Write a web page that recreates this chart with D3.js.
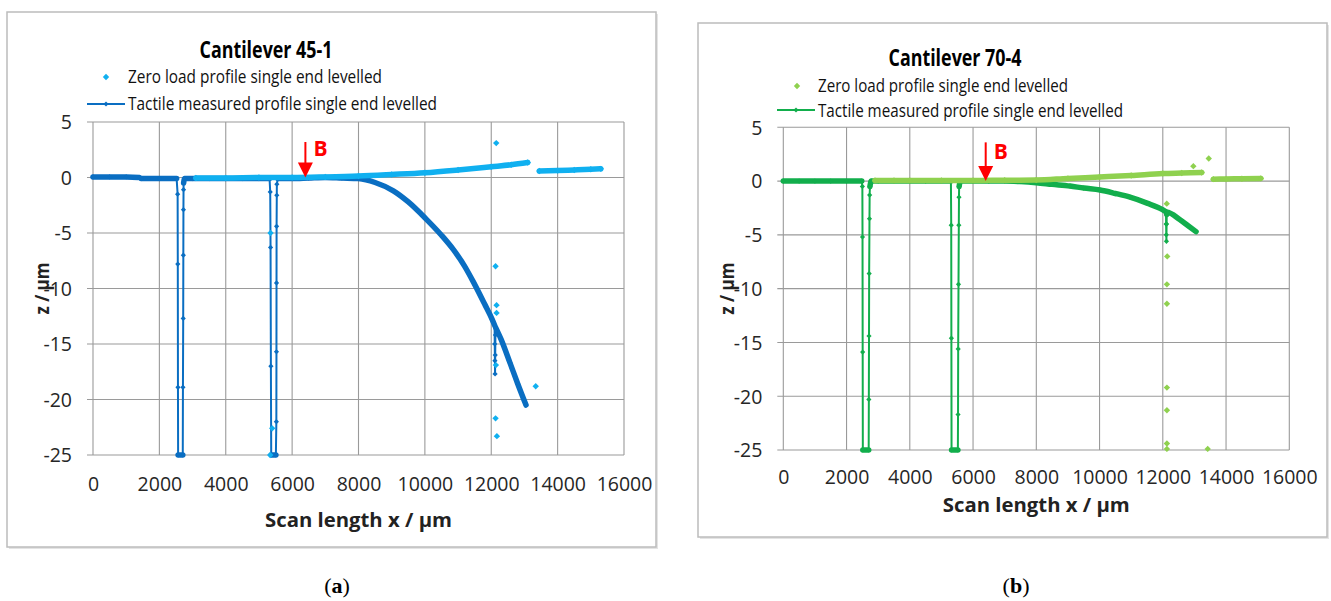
<!DOCTYPE html>
<html><head><meta charset="utf-8">
<script src="https://cdn.jsdelivr.net/npm/d3@7"></script>
<style>body{margin:0;background:#fff}svg{display:block}</style>
</head><body>
<svg id="c" width="1331" height="601"></svg>
<script>
// ---------- DATA ----------
const xTicks = [0,2000,4000,6000,8000,10000,12000,14000,16000];
const yTicks = [5,0,-5,-10,-15,-20,-25];
const titles = ["Cantilever 45-1","Cantilever 70-4"];
const legendLabels = ["Zero load profile single end levelled","Tactile measured profile single end levelled"];
const xAxisTitle = "Scan length x / µm";
const yAxisTitle = "z / µm";
const captionLetters = ["a","b"];
const pointLabel = "B";
const pointX = [6400, 6400];
const pointTopZ = [3.2, 3.6];

// Cantilever 45-1 : tactile measured profile
const tactile45X = [0,500,1000,1400,1450,2000,2520,2550,2555,2560,2565,2705,2710,2718,2722,2725,2728,2730,2760,3000,3500,4000,4500,5000,5320,5340,5350,5360,5370,5510,5525,5528,5530,5532,5538,5540,5570,6000,6500,7000,7500,8000,8500,9050,9500,10025,10500,10860,11200,11460,11800,12030,12100,12105,12110,12115,12120,12125,12130,12300,12565,12800,13047];
const tactile45Z = [0.05,0.05,0.05,0.0,-0.1,-0.1,-0.1,-1.5,-7.8,-18.9,-25,-25,-18.9,-12.7,-7.0,-2.9,-1.1,-0.5,-0.1,-0.1,-0.1,-0.1,-0.1,-0.1,-0.1,-1.3,-6.3,-17,-25,-25,-22,-15.7,-9.5,-4.4,-1.6,-0.6,-0.1,-0.1,-0.05,0,-0.05,-0.1,-0.45,-1.2,-2.2,-3.7,-5.2,-6.5,-8.0,-9.4,-11.4,-12.8,-13.3,-15.0,-16.5,-17.7,-16.0,-14.2,-13.5,-14.6,-16.7,-18.6,-20.5];
// Cantilever 45-1 : zero load profile (two scan stretches + isolated points)
const zero45AX = [3100,4000,5000,6000,7000,8000,9000,10000,11000,12000,12600,13100];
const zero45AZ = [-0.05,-0.05,0,0,0.05,0.13,0.27,0.43,0.68,0.97,1.15,1.35];
const zero45BX = [13450,14000,14500,15000,15300];
const zero45BZ = [0.58,0.62,0.68,0.74,0.78];
const zero45OutX = [5350,5400,5340,12150,12130,12160,12160,12140,12130,12170,13340];
const zero45OutZ = [-5.0,-22.6,-25,3.1,-8.0,-11.5,-12.2,-16.9,-21.7,-23.3,-18.8];

// Cantilever 70-4 : tactile measured profile
const tactile70X = [0,500,1000,1500,2000,2480,2500,2505,2510,2515,2700,2705,2710,2715,2725,2730,2740,2780,3000,3500,4000,4500,5000,5300,5310,5315,5320,5520,5525,5530,5540,5550,5555,5560,5600,6000,6500,7000,7500,8000,8500,9066,9500,10015,10500,10964,11500,12018,12100,12105,12110,12115,12120,12125,12130,12545,12800,13050];
const tactile70Z = [0,0,0,0,0,0,-0.5,-5.2,-15.9,-25,-25,-20.3,-14.4,-8.6,-3.5,-1.3,-0.5,0,0,0,0,0,0,0,-4.1,-14.6,-25,-25,-21.7,-15.6,-9.6,-4.1,-1.5,-0.5,0,0,0,0,-0.05,-0.15,-0.3,-0.46,-0.65,-0.83,-1.15,-1.5,-2.05,-2.7,-2.85,-4.0,-5.0,-5.6,-4.0,-3.1,-2.9,-3.6,-4.15,-4.7];
// Cantilever 70-4 : zero load profile
const zero70AX = [2900,3500,4000,5000,6000,7000,8000,9000,10000,11000,12000,12600,13230];
const zero70AZ = [0.05,0.05,0.05,0.05,0.05,0.08,0.1,0.25,0.38,0.52,0.7,0.75,0.8];
const zero70BX = [13600,14000,14500,15100];
const zero70BZ = [0.18,0.2,0.22,0.25];
const zero70OutX = [12966,13453,12125,12140,12130,12130,12130,12130,12130,12130,13420];
const zero70OutZ = [1.39,2.1,-2.1,-7.0,-9.6,-11.4,-19.2,-21.3,-24.4,-24.9,-24.9];

// ---------- LAYOUT ----------
const zip = (xs, zs) => xs.map((x,i)=>[x, zs[i]]);
const panels = [
  {box:[7,12,656,547], plot:{l:93,r:624,t:122,b:455}, titleXY:[266,58],
   leg:{mx:106,lx0:87,lx1:125,tx:128,b1:83,b2:110,c1:77,c2:104,w1:254,w2:309},
   yTitleX:42, xTicksY:484, xTitleY:527, capX:337, dark:"#0A6EC2", light:"#10B0F0",
   tactile:zip(tactile45X,tactile45Z), zeroSegs:[zip(zero45AX,zero45AZ),zip(zero45BX,zero45BZ)], zeroOut:zip(zero45OutX,zero45OutZ)},
  {box:[698,23,1327,537], plot:{l:783.3,r:1289.3,t:127.3,b:450}, titleXY:[955,66],
   leg:{mx:797,lx0:777,lx1:815,tx:818,b1:92,b2:117,c1:86,c2:110,w1:250,w2:305},
   yTitleX:727, xTicksY:477, xTitleY:512, capX:1016, dark:"#12AE4C", light:"#8FD14F",
   tactile:zip(tactile70X,tactile70Z), zeroSegs:[zip(zero70AX,zero70AZ),zip(zero70BX,zero70BZ)], zeroOut:zip(zero70OutX,zero70OutZ)}
];

const svg = d3.select("#c");
const FONT = "'Open Sans', 'DejaVu Sans', sans-serif";
const diamond = r => `M0,${-r}L${r},0L0,${r}L${-r},0Z`;

panels.forEach((p, pi) => {
  const g = svg.append("g");
  const [bx0,by0,bx1,by1] = p.box;
  g.append("rect").attr("x",bx0+2).attr("y",by0+2).attr("width",bx1-bx0).attr("height",by1-by0)
    .attr("fill","#e4e4e4");
  g.append("rect").attr("x",bx0).attr("y",by0).attr("width",bx1-bx0).attr("height",by1-by0)
    .attr("fill","#fff").attr("stroke","#bcbcbc").attr("stroke-width",1.5);

  const x = d3.scaleLinear().domain([0,16000]).range([p.plot.l,p.plot.r]);
  const y = d3.scaleLinear().domain([-25,5]).range([p.plot.b,p.plot.t]);

  // grid
  const grid = g.append("g").attr("stroke","#9a9a9a").attr("stroke-width",1.1);
  xTicks.forEach(t => grid.append("line").attr("x1",x(t)).attr("x2",x(t)).attr("y1",y(5)).attr("y2",y(-25)));
  yTicks.forEach(t => grid.append("line").attr("x1",x(0)-6).attr("x2",x(16000)).attr("y1",y(t)).attr("y2",y(t)));

  // tick labels via d3 axes
  const xa = g.append("g").attr("transform",`translate(0,${p.xTicksY})`)
    .call(d3.axisBottom(x).tickValues(xTicks).tickSize(0).tickFormat(d3.format("d")));
  xa.select(".domain").remove();
  xa.selectAll("text").attr("dy","0.35em").attr("y",0).attr("font-family",FONT).attr("font-size",19.5).attr("fill","#262626");
  const ya = g.append("g").attr("transform",`translate(${p.plot.l-21},0)`)
    .call(d3.axisLeft(y).tickValues(yTicks).tickSize(0).tickFormat(d3.format("d")));
  ya.select(".domain").remove();
  ya.selectAll("text").attr("x",0).attr("dy","0.35em").attr("font-family",FONT).attr("font-size",19.5).attr("fill","#262626")
    .text(d => d < 0 ? "-" + Math.abs(d) : d);

  // tactile series: thin line through all points, thick band on densely scanned stretches
  const pts = p.tactile;
  const line = d3.line().x(d=>x(d[0])).y(d=>y(d[1]));
  const smooth = d3.line().x(d=>x(d[0])).y(d=>y(d[1])).curve(d3.curveMonotoneX);
  g.append("path").attr("d",line(pts)).attr("fill","none").attr("stroke",p.dark).attr("stroke-width",2);
  const runs = []; let cur = null;
  for (let i=1;i<pts.length;i++){
    const dx = Math.abs(x(pts[i][0])-x(pts[i-1][0])), dy = Math.abs(y(pts[i][1])-y(pts[i-1][1]));
    if (dy <= 3*dx + 2) { if (!cur) { cur=[pts[i-1]]; runs.push(cur); } cur.push(pts[i]); }
    else cur = null;
  }
  runs.forEach(r => g.append("path").attr("d",smooth(r)).attr("fill","none").attr("stroke",p.dark)
    .attr("stroke-width",5.5).attr("stroke-linecap","round").attr("stroke-linejoin","round"));
  g.append("g").selectAll("path").data(pts).join("path")
    .attr("transform",d=>`translate(${x(d[0])},${y(d[1])})`).attr("d",diamond(2.6)).attr("fill",p.dark);

  // zero load series (dense scatter drawn as band + markers)
  p.zeroSegs.forEach(seg => {
    g.append("path").attr("d",smooth(seg)).attr("fill","none").attr("stroke",p.light)
      .attr("stroke-width",5.5).attr("stroke-linecap","round").attr("stroke-linejoin","round");
  });
  g.append("g").selectAll("path").data(p.zeroSegs.flat().concat(p.zeroOut)).join("path")
    .attr("transform",d=>`translate(${x(d[0])},${y(d[1])})`).attr("d",diamond(3.2)).attr("fill",p.light);

  // arrow B
  const ax = x(pointX[pi]), tip = y(0), top = y(pointTopZ[pi]);
  g.append("line").attr("x1",ax).attr("x2",ax).attr("y1",top).attr("y2",tip-13).attr("stroke","#ff0000").attr("stroke-width",2);
  g.append("path").attr("d",`M${ax-7.5},${tip-15}L${ax+7.5},${tip-15}L${ax},${tip}Z`).attr("fill","#ff0000");
  g.append("text").attr("x",ax+8).attr("y",tip-22).attr("font-family",FONT).attr("font-weight","bold")
    .attr("font-size",21).attr("fill","#ff0000").text(pointLabel);

  // title
  g.append("text").attr("x",p.titleXY[0]).attr("y",p.titleXY[1]).attr("text-anchor","middle")
    .attr("font-family",FONT).attr("font-weight","bold").attr("font-size",22.5).attr("fill","#000")
    .attr("textLength",133).attr("lengthAdjust","spacingAndGlyphs").text(titles[pi]);

  // legend
  const L = p.leg;
  g.append("path").attr("transform",`translate(${L.mx},${L.c1})`).attr("d",diamond(3.2)).attr("fill",p.light);
  g.append("text").attr("x",L.tx).attr("y",L.b1).attr("font-family",FONT).attr("font-size",18).attr("fill","#111")
    .attr("textLength",L.w1).attr("lengthAdjust","spacingAndGlyphs").text(legendLabels[0]);
  g.append("line").attr("x1",L.lx0).attr("x2",L.lx1).attr("y1",L.c2).attr("y2",L.c2).attr("stroke",p.dark).attr("stroke-width",2.2);
  g.append("path").attr("transform",`translate(${(L.lx0+L.lx1)/2},${L.c2})`).attr("d",diamond(2.6)).attr("fill",p.dark);
  g.append("text").attr("x",L.tx).attr("y",L.b2).attr("font-family",FONT).attr("font-size",18).attr("fill","#111")
    .attr("textLength",L.w2).attr("lengthAdjust","spacingAndGlyphs").text(legendLabels[1]);

  // axis titles
  g.append("text").attr("x",(p.plot.l+p.plot.r)/2).attr("y",p.xTitleY).attr("text-anchor","middle")
    .attr("font-family",FONT).attr("font-weight","bold").attr("font-size",19.5).attr("fill","#222")
    .attr("textLength",187).attr("lengthAdjust","spacingAndGlyphs").text(xAxisTitle);
  const yc = (p.plot.t+p.plot.b)/2;
  g.append("text").attr("transform",`translate(${p.yTitleX},${yc}) rotate(-90)`).attr("text-anchor","middle")
    .attr("dy","0.35em").attr("font-family",FONT).attr("font-weight","bold").attr("font-size",19.5).attr("fill","#222")
    .attr("textLength",52).attr("lengthAdjust","spacingAndGlyphs").text(yAxisTitle);

  // caption
  const cap = svg.append("text").attr("x",p.capX).attr("y",593).attr("text-anchor","middle")
    .attr("font-family","'Liberation Serif', 'DejaVu Serif', serif").attr("font-size",22).attr("fill","#000");
  cap.append("tspan").text("(");
  cap.append("tspan").attr("font-weight","bold").text(captionLetters[pi]);
  cap.append("tspan").text(")");
});
</script>
</body></html>
